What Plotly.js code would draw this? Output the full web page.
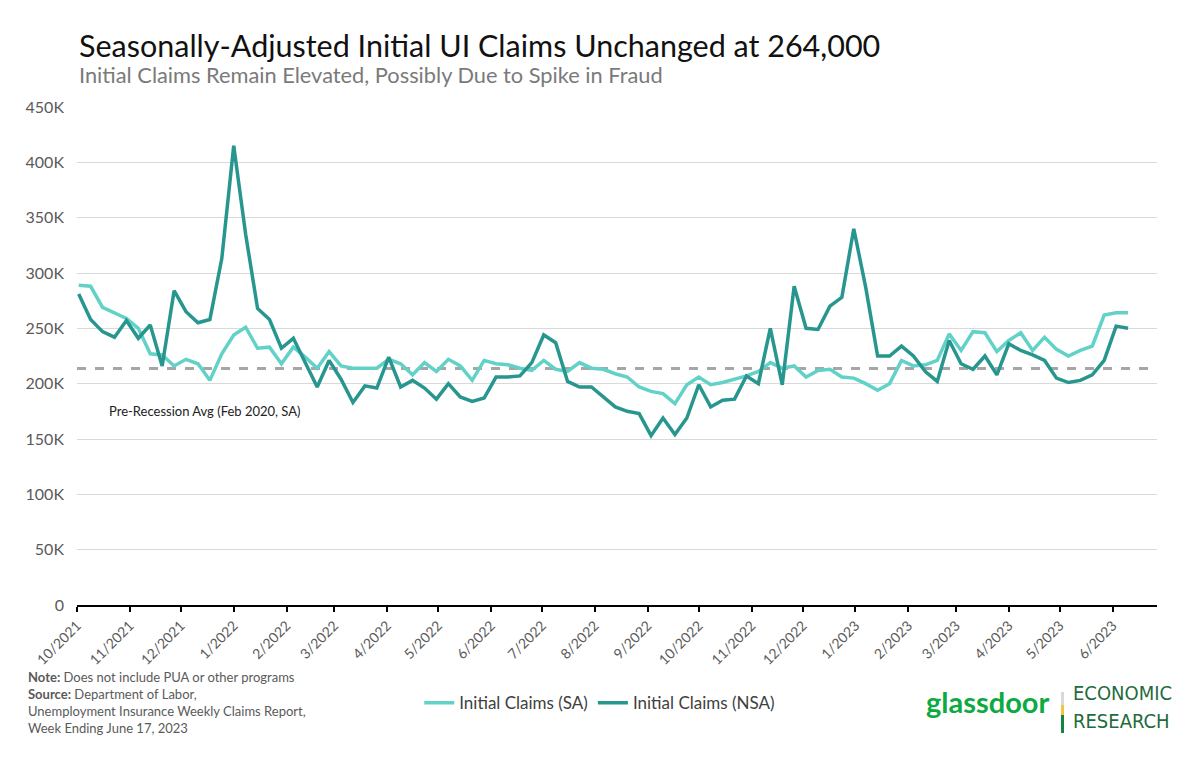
<!DOCTYPE html>
<html>
<head>
<meta charset="utf-8">
<script src="https://cdn.plot.ly/plotly-3.0.1.min.js"></script>
<style>
  html, body { margin: 0; padding: 0; background: #ffffff; }
  #chart { width: 1200px; height: 762px; }
</style>
</head>
<body>
<div id="chart"></div>
<script>
// Weekly initial UI claims (thousands), first week plotted 2021-10-02, weekly
const startDate = '2021-10-02';
const claimsSA = [
  289, 288, 269, 264, 259, 250, 227, 226, 216, 222,
  218, 203, 227, 244, 251, 232, 233, 218, 233, 224,
  214, 229, 216, 214, 214, 214, 222, 218, 208, 219,
  211, 222, 216, 203, 221, 218, 217, 214, 212, 221,
  213, 211, 219, 214, 213, 209, 206, 197, 193, 191,
  182, 199, 206, 199, 201, 204, 207, 211, 219, 214,
  216, 206, 212, 213, 206, 205, 200, 194, 200, 221,
  216, 217, 221, 245, 230, 247, 246, 229, 239, 246,
  230, 242, 231, 225, 230, 234, 262, 264, 264
];
const claimsNSA = [
  281, 258, 247, 242, 257, 241, 253, 216, 284, 265,
  255, 258, 313, 415, 335, 268, 258, 232, 241, 219,
  197, 221, 204, 183, 198, 196, 224, 197, 203, 196,
  186, 200, 188, 184, 187, 206, 206, 207, 219, 244,
  237, 202, 197, 197, 188, 179, 175, 173, 153, 169,
  154, 169, 199, 179, 185, 186, 207, 200, 250, 199,
  288, 250, 249, 270, 278, 340, 287, 225, 225, 234,
  225, 211, 202, 239, 218, 213, 225, 208, 236, 230,
  226, 221, 205, 201, 203, 208, 221, 252, 250
];
const preRecessionAvg = 213.6; // thousands, Feb 2020 SA
const yTickVals = [0, 50, 100, 150, 200, 250, 300, 350, 400, 450];
const yTickText = ['0', '50K', '100K', '150K', '200K', '250K', '300K', '350K', '400K', '450K'];
const xRange = ['2021-10-01', '2023-06-27'];

// Build weekly dates
function weeklyDates(start, n) {
  const out = [];
  const d0 = new Date(start + 'T00:00:00Z');
  for (let i = 0; i < n; i++) {
    const d = new Date(d0.getTime() + i * 7 * 86400000);
    out.push(d.toISOString().slice(0, 10));
  }
  return out;
}
const dates = weeklyDates(startDate, claimsSA.length);

const colSA = '#62d2c9';
const colNSA = '#27968f';
const textGray = '#5a5a5a';

const traces = [
  {
    x: dates, y: claimsSA, type: 'scatter', mode: 'lines',
    name: 'Initial Claims (SA)',
    line: { color: colSA, width: 3.5 }
  },
  {
    x: dates, y: claimsNSA, type: 'scatter', mode: 'lines',
    name: 'Initial Claims (NSA)',
    line: { color: colNSA, width: 3.5 }
  }
];

const logoFont = '"DejaVu Sans Condensed", "Liberation Sans Narrow", "Roboto", sans-serif';

const layout = {
  width: 1200, height: 762,
  margin: { l: 77, r: 43, t: 107, b: 157 },
  paper_bgcolor: '#ffffff', plot_bgcolor: '#ffffff',
  font: { family: 'Lato, "Open Sans", sans-serif', color: textGray },
  showlegend: true,
  legend: {
    orientation: 'h', x: 0.484, xanchor: 'center', y: -0.197, yanchor: 'middle',
    font: { size: 17, color: '#404040' }, itemwidth: 30, tracegroupgap: 0
  },
  xaxis: {
    type: 'date', range: xRange,
    dtick: 'M1', tick0: '2021-10-01', tickformat: '%-m/%Y',
    tickangle: -45, tickfont: { size: 14, color: textGray },
    showgrid: false, showline: true, linecolor: '#000000', linewidth: 2,
    ticks: 'outside', ticklen: 5, tickwidth: 2, tickcolor: '#000000',
    zeroline: false, fixedrange: true
  },
  yaxis: {
    range: [0, 450], tickvals: yTickVals, ticktext: yTickText,
    tickfont: { size: 16, color: textGray },
    showgrid: true, gridcolor: '#d9d9d9', gridwidth: 1,
    showline: false, zeroline: false, ticks: '', ticklabelstandoff: 12,
    fixedrange: true
  },
  shapes: [
    {
      type: 'line', xref: 'paper', yref: 'y', x0: 0, x1: 1,
      y0: preRecessionAvg, y1: preRecessionAvg,
      line: { color: '#a6a6a6', width: 3, dash: 'dash' }, layer: 'below'
    },
    { type: 'rect', xref: 'paper', yref: 'paper',
      x0: (1061 - 77) / 1080, x1: (1064 - 77) / 1080,
      y0: (605 - 692) / 498, y1: (605 - 705) / 498,
      fillcolor: '#d9d9d9', line: { width: 0 } },
    { type: 'rect', xref: 'paper', yref: 'paper',
      x0: (1061 - 77) / 1080, x1: (1064 - 77) / 1080,
      y0: (605 - 705) / 498, y1: (605 - 715) / 498,
      fillcolor: '#f2c440', line: { width: 0 } },
    { type: 'rect', xref: 'paper', yref: 'paper',
      x0: (1061 - 77) / 1080, x1: (1064 - 77) / 1080,
      y0: (605 - 715) / 498, y1: (605 - 733) / 498,
      fillcolor: '#16833f', line: { width: 0 } }
  ],
  annotations: [
    {
      xref: 'paper', yref: 'paper', x: 0, y: (605 - 45) / 498,
      xanchor: 'left', yanchor: 'middle', showarrow: false,
      text: 'Seasonally-Adjusted Initial UI Claims Unchanged at 264,000',
      font: { size: 30.5, color: '#111111', family: 'Lato, sans-serif' }
    },
    {
      xref: 'paper', yref: 'paper', x: 0, y: (605 - 74) / 498,
      xanchor: 'left', yanchor: 'middle', showarrow: false,
      text: 'Initial Claims Remain Elevated, Possibly Due to Spike in Fraud',
      font: { size: 21.8, color: '#7a7a7a', family: 'Lato, sans-serif' }
    },
    {
      xref: 'paper', yref: 'y', x: (107 - 77) / 1080, y: (605 - 411) / 1.108,
      xanchor: 'left', yanchor: 'middle', showarrow: false,
      text: 'Pre-Recession Avg (Feb 2020, SA)',
      font: { size: 13, color: '#222222' }
    },
    {
      xref: 'paper', yref: 'paper', x: (26 - 77) / 1080, y: (605 - 702) / 498,
      xanchor: 'left', yanchor: 'middle', align: 'left', showarrow: false,
      text: '<b>Note:</b> Does not include PUA or other programs<br><b>Source:</b> Department of Labor,<br>Unemployment Insurance Weekly Claims Report,<br>Week Ending June 17, 2023',
      font: { size: 13, color: textGray }
    },
    {
      xref: 'paper', yref: 'paper', x: (924 - 77) / 1080, y: (605 - 701) / 498,
      xanchor: 'left', yanchor: 'middle', showarrow: false,
      text: '<b>glassdoor</b>',
      font: { size: 29, color: '#0caa41', family: 'Lato, "Open Sans", sans-serif' }
    },
    {
      xref: 'paper', yref: 'paper', x: (1071 - 77) / 1080, y: (605 - 693) / 498,
      xanchor: 'left', yanchor: 'middle', showarrow: false,
      text: 'ECONOMIC',
      font: { size: 20, color: '#1f6b3c', family: logoFont }
    },
    {
      xref: 'paper', yref: 'paper', x: (1071 - 77) / 1080, y: (605 - 721) / 498,
      xanchor: 'left', yanchor: 'middle', showarrow: false,
      text: 'RESEARCH',
      font: { size: 20, color: '#1f6b3c', family: logoFont }
    }
  ]
};

Plotly.newPlot('chart', traces, layout, { displayModeBar: false, staticPlot: true });
</script>
</body>
</html>
